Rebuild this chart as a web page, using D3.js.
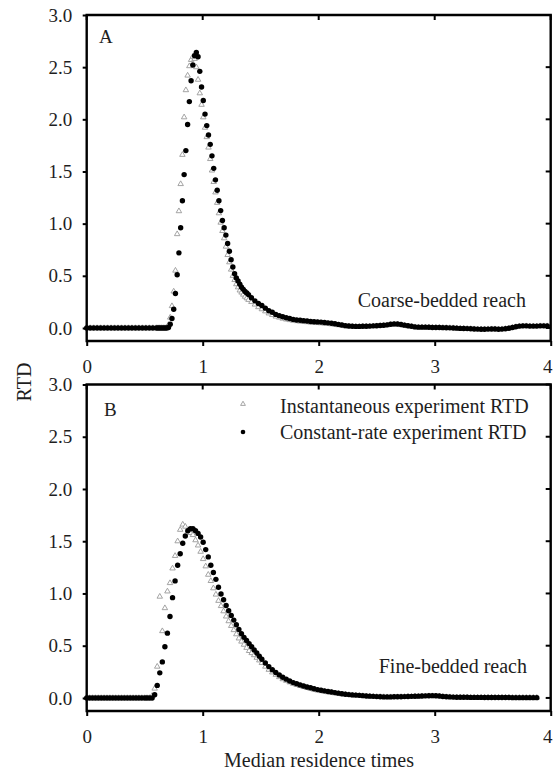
<!DOCTYPE html>
<html><head><meta charset="utf-8">
<script src="https://cdn.jsdelivr.net/npm/d3@7"></script>
<style>body{margin:0;background:#fff}svg text{font-family:"Liberation Serif","Times New Roman",serif;fill:#1e1e1e}</style>
</head><body><svg id="c" width="554" height="771"></svg>
<script>
const xTicks=[0,1,2,3,4];
const yTicks=[0,0.5,1,1.5,2,2.5,3];
const legendLabels=["Instantaneous experiment RTD","Constant-rate experiment RTD"];

// Panel A (coarse-bedded reach)
const T_A=[0,0.03,0.06,0.09,0.12,0.15,0.18,0.21,0.24,0.27,0.30,0.33,0.36,0.39,0.42,0.45,0.48,0.51,0.54,0.57,0.60,
0.615,0.630,0.645,0.660,0.675,0.690,0.705,0.720,0.735,0.750,0.765,0.780,0.795,0.810,0.825,0.840,0.855,0.870,0.885,0.900,0.915,0.930,0.945,0.960,0.975,0.990,1.005,1.020,1.035,1.050,1.065,1.080,1.095,1.110,1.125,1.140,1.155,1.170,1.185,1.200,1.215,1.230,1.245,1.260,1.275,1.290,1.305,1.320,1.335,1.350,1.365,1.380,1.395,
1.42,1.45,1.48,1.51,1.54,1.57,1.60,1.63,1.66,1.69,
1.72,1.75,1.78,1.81,1.84,1.87,1.90,1.93,1.96,1.99,
2.02,2.05,2.08,2.11,2.14,2.17,2.20,2.23,2.26,2.29,
2.32,2.35,2.38,2.41,2.44,2.47,2.50,2.53,2.56,2.59,
2.62,2.65,2.68,2.71,2.74,2.77,2.80,2.83,2.86,2.89,
2.92,2.95,2.98,3.01,3.04,3.07,3.10,3.13,3.16,3.19,
3.22,3.25,3.28,3.31,3.34,3.37,3.40,3.43,3.46,3.49,
3.52,3.55,3.58,3.61,3.64,3.67,3.70,3.73,3.76,3.79,
3.82,3.85,3.88,3.91,3.94,3.97];
const A_instant=[0,0,0,0,0,0,0,0,0,0,0,0,0,0,0,0,0,0,0,0,0,
0,0,0,0,0,0.005,0.03,0.10,0.21,0.35,0.55,0.90,1.12,1.38,1.66,2.02,2.28,2.42,2.51,2.57,2.60,2.58,2.50,2.38,2.25,2.14,2.02,1.92,1.83,1.73,1.62,1.51,1.40,1.30,1.20,1.10,1.01,0.93,0.86,0.78,0.70,0.63,0.56,0.50,0.46,0.42,0.39,0.36,0.34,0.32,0.30,0.285,0.27,
0.25,0.225,0.20,0.18,0.16,0.14,0.125,0.11,0.10,0.09,
0.082,0.076,0.07,0.066,0.062,0.059,0.056,0.053,0.05,0.048,
0.046,0.043,0.04,0.036,0.032,0.027,0.022,0.017,0.014,0.012,
0.012,0.012,0.013,0.014,0.015,0.017,0.018,0.02,0.022,0.026,
0.03,0.033,0.032,0.028,0.022,0.017,0.012,0.008,0.006,0.006,
0.006,0.005,0.004,0.003,0.003,0.002,0.001,0,-0.001,-0.003,
-0.005,-0.006,-0.007,-0.009,-0.011,-0.012,-0.012,-0.012,-0.011,-0.011,
-0.011,-0.012,-0.011,-0.008,-0.004,0.003,0.01,0.015,0.017,0.018,
0.017,0.017,0.017,0.018,0.018,0.018];
const A_constant=[0,0,0,0,0,0,0,0,0,0,0,0,0,0,0,0,0,0,0,0,0,
0,0,0,0,0,0,0.005,0.035,0.09,0.18,0.33,0.51,0.72,0.96,1.22,1.47,1.70,1.95,2.17,2.37,2.52,2.61,2.64,2.60,2.46,2.31,2.18,2.05,1.94,1.85,1.76,1.65,1.53,1.42,1.32,1.22,1.125,1.03,0.96,0.89,0.81,0.735,0.655,0.585,0.52,0.48,0.45,0.42,0.39,0.37,0.35,0.335,0.32,
0.29,0.26,0.235,0.215,0.19,0.165,0.15,0.13,0.118,0.107,
0.098,0.09,0.082,0.077,0.074,0.07,0.066,0.062,0.06,0.058,
0.056,0.052,0.049,0.045,0.04,0.034,0.028,0.022,0.019,0.016,
0.015,0.015,0.016,0.017,0.018,0.02,0.021,0.023,0.026,0.03,
0.035,0.039,0.038,0.033,0.027,0.021,0.016,0.01,0.008,0.008,
0.008,0.007,0.005,0.004,0.004,0.003,0.002,0.001,0,-0.002,
-0.004,-0.005,-0.006,-0.008,-0.01,-0.011,-0.012,-0.012,-0.011,-0.01,
-0.01,-0.012,-0.011,-0.008,-0.003,0.005,0.012,0.018,0.02,0.02,
0.018,0.018,0.018,0.02,0.02,0.02];

// Panel B (fine-bedded reach)
const T_B=[0,0.025,0.05,0.075,0.1,0.125,0.15,0.175,0.2,0.225,0.25,0.275,0.3,0.325,0.35,0.375,0.4,0.425,0.45,0.475,0.5,
0.520,0.542,0.564,0.586,0.608,0.630,0.652,0.674,0.696,0.718,0.740,0.762,0.784,0.806,0.828,0.850,0.872,0.894,0.916,0.938,0.960,0.982,1.004,1.026,1.048,1.070,1.092,1.114,1.136,1.158,1.180,1.202,1.224,1.246,1.268,1.290,1.312,1.334,1.356,1.378,1.400,1.422,1.444,1.466,1.488,
1.51,1.54,1.57,1.60,1.63,1.66,1.69,1.72,1.75,1.78,
1.81,1.84,1.87,1.90,1.93,1.96,1.99,2.02,2.05,2.08,
2.11,2.14,2.17,2.20,2.23,2.26,2.29,2.32,2.35,2.38,
2.41,2.44,2.47,2.50,2.53,2.56,2.59,2.62,2.65,2.68,
2.71,2.74,2.77,2.80,2.83,2.86,2.89,2.92,2.95,2.98,
3.01,3.04,3.07,3.10,3.13,3.16,3.19,3.22,3.25,3.28,
3.31,3.34,3.37,3.40,3.43,3.46,3.49,3.52,3.55,3.58,
3.61,3.64,3.67,3.70,3.73,3.76,3.79,3.82,3.85,3.88];
const B_instant=[0,0,0,0,0,0,0,0,0,0,0,0,0,0,0,0,0,0,0,0,0,
0,0,0.02,0.09,0.30,0.97,0.64,0.86,1.02,1.10,1.24,1.36,1.50,1.61,1.66,1.64,1.60,1.58,1.56,1.51,1.46,1.40,1.33,1.26,1.18,1.12,1.05,0.99,0.93,0.88,0.83,0.78,0.735,0.69,0.65,0.61,0.57,0.54,0.51,0.48,0.45,0.43,0.41,0.385,0.36,
0.335,0.30,0.27,0.245,0.222,0.20,0.18,0.165,0.15,0.136,
0.125,0.115,0.105,0.096,0.088,0.08,0.072,0.066,0.06,0.055,
0.05,0.045,0.04,0.036,0.032,0.029,0.026,0.023,0.021,0.019,
0.017,0.015,0.013,0.011,0.01,0.009,0.008,0.008,0.008,0.009,
0.01,0.011,0.012,0.012,0.013,0.014,0.015,0.017,0.018,0.018,
0.017,0.015,0.012,0.009,0.008,0.006,0.005,0.005,0.004,0.004,
0.004,0.004,0.004,0.004,0.004,0.004,0.004,0.003,0.003,0.003,
0.003,0.003,0.003,0.003,0.003,0.003,0.003,0.003,0.003,0.003];
const B_constant=[0,0,0,0,0,0,0,0,0,0,0,0,0,0,0,0,0,0,0,0,0,
0,0,0,0.03,0.12,0.24,0.345,0.49,0.62,0.78,0.96,1.12,1.27,1.38,1.48,1.55,1.60,1.62,1.62,1.60,1.575,1.54,1.49,1.42,1.35,1.27,1.20,1.135,1.06,0.995,0.94,0.885,0.835,0.79,0.745,0.70,0.655,0.615,0.58,0.55,0.52,0.49,0.46,0.43,0.40,
0.37,0.335,0.30,0.27,0.243,0.22,0.198,0.18,0.162,0.147,
0.137,0.125,0.114,0.105,0.097,0.088,0.08,0.074,0.068,0.062,
0.057,0.051,0.046,0.04,0.036,0.032,0.029,0.027,0.025,0.022,
0.019,0.017,0.015,0.013,0.012,0.01,0.01,0.01,0.011,0.012,
0.012,0.013,0.014,0.015,0.016,0.017,0.018,0.02,0.021,0.022,
0.021,0.018,0.014,0.011,0.01,0.008,0.007,0.007,0.006,0.006,
0.005,0.005,0.005,0.005,0.004,0.004,0.004,0.004,0.004,0.004,
0.004,0.004,0.003,0.003,0.003,0.003,0.003,0.003,0.003,0.003];

const svg=d3.select("#c");
const left=86.7,right=550.7;
const x=d3.scaleLinear().domain([0,4]).range([left,right]);

const panels=[
 {label:"A",note:"Coarse-bedded reach",t:T_A,inst:A_instant,cons:A_constant,top:15,bottom:341,labelPos:[99,43],notePos:[526,307],legend:false},
 {label:"B",note:"Fine-bedded reach",t:T_B,inst:B_instant,cons:B_constant,top:384.5,bottom:711,labelPos:[104,416],notePos:[527,673],legend:true}
];

panels.forEach(p=>{
  const y=d3.scaleLinear().domain([-0.125,3]).range([p.bottom,p.top]);
  const g=svg.append("g");
  const n=Math.min(p.t.length,p.inst.length,p.cons.length);
  const pts=d3.range(n).map(i=>({t:p.t[i],a:p.inst[i],b:p.cons[i]}));
  const tri=d3.symbol().type(d3.symbolTriangle).size(13);
  g.selectAll("path.tri").data(pts).join("path").attr("class","tri")
    .attr("d",tri).attr("transform",d=>`translate(${x(d.t)},${y(d.a)})`)
    .attr("fill","white").attr("stroke","#9a9a9a").attr("stroke-width",0.9);
  g.selectAll("circle.dot").data(pts).join("circle").attr("class","dot")
    .attr("cx",d=>x(d.t)).attr("cy",d=>y(d.b)).attr("r",2.7).attr("fill","#000");

  // axes
  const ya=d3.axisLeft(y).tickValues(yTicks).tickFormat(d3.format(".1f")).tickSize(4).tickPadding(10.5);
  const yg=g.append("g").attr("transform",`translate(${left},0)`).call(ya);
  const xa=d3.axisBottom(x).tickValues(xTicks).tickFormat(d3.format("d")).tickSize(5).tickPadding(13.5);
  const xg=g.append("g").attr("transform",`translate(0,${p.bottom})`).call(xa);
  [yg,xg].forEach(a=>{a.select(".domain").remove();a.selectAll("line").attr("stroke","#000").attr("stroke-width",2);
    a.selectAll("text").attr("font-size",19).attr("fill","#1e1e1e").attr("font-family","Liberation Serif");});
  xg.selectAll(".tick text").filter(d=>d===4).attr("dx",-3.5);
  // frame
  const fr=g.append("g").attr("stroke","#000").attr("stroke-width",2.4).attr("fill","none");
  fr.append("path").attr("d",`M${left},${p.top}H${right}V${p.bottom}H${left}Z`);
  // inward ticks top & right
  xTicks.forEach(v=>fr.append("line").attr("x1",x(v)).attr("x2",x(v)).attr("y1",p.top).attr("y2",p.top+5).attr("stroke-width",2));
  yTicks.forEach(v=>fr.append("line").attr("x1",right).attr("x2",right-5).attr("y1",y(v)).attr("y2",y(v)).attr("stroke-width",2));

  g.append("text").attr("x",p.labelPos[0]).attr("y",p.labelPos[1]).attr("font-size",19).text(p.label);
  g.append("text").attr("x",p.notePos[0]).attr("y",p.notePos[1]).attr("text-anchor","end").attr("font-size",20).text(p.note);

  if(p.legend){
    const lg=g.append("g");
    lg.append("path").attr("d",d3.symbol().type(d3.symbolTriangle).size(10)).attr("transform","translate(243,404)")
      .attr("fill","white").attr("stroke","#9a9a9a").attr("stroke-width",0.9);
    lg.append("circle").attr("cx",243).attr("cy",432).attr("r",2.3).attr("fill","#000");
    lg.append("text").attr("x",280).attr("y",413).attr("font-size",20).text(legendLabels[0]);
    lg.append("text").attr("x",280).attr("y",439).attr("font-size",20).text(legendLabels[1]);
  }
});

svg.append("text").attr("transform","translate(31,382) rotate(-90)").attr("text-anchor","middle").attr("font-size",20).text("RTD");
svg.append("text").attr("x",319).attr("y",767).attr("text-anchor","middle").attr("font-size",20).text("Median residence times");
</script></body></html>
